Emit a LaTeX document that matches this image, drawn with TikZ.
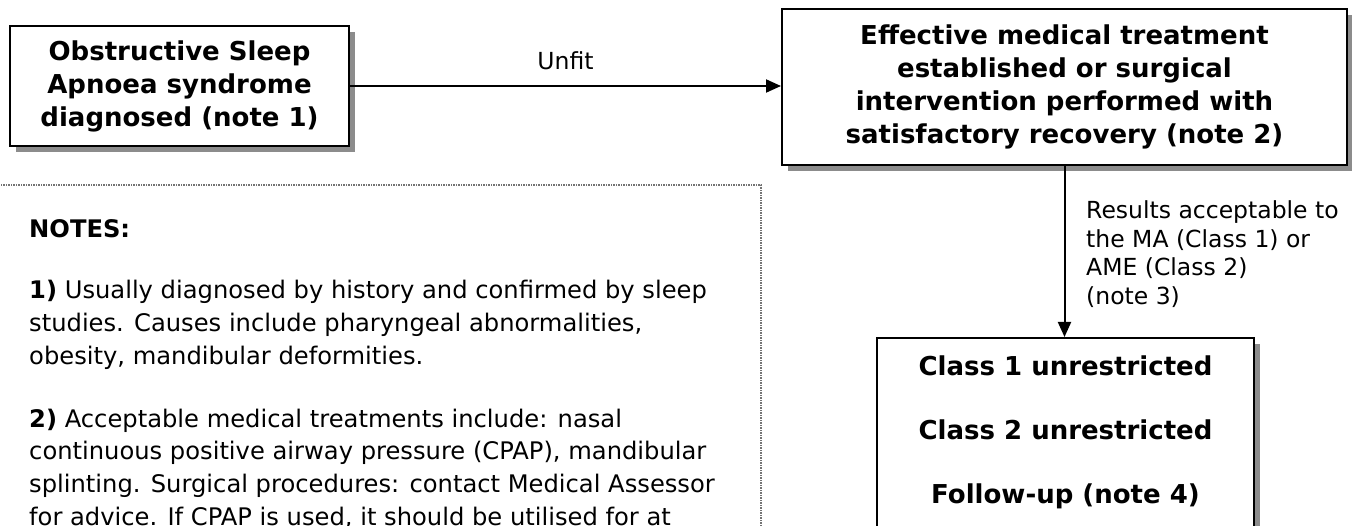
\documentclass[tikz,border=0pt]{standalone}
\usepackage{fontspec}
\setmainfont{DejaVu Sans}
\usetikzlibrary{arrows.meta,shadows}
\begin{document}
\begin{tikzpicture}[x=1pt,y=-1pt,
  flowbox/.style={draw=black, line width=2pt, fill=white, inner sep=0pt, align=center,
    font={\fontsize{26}{33}\selectfont\bfseries},
    drop shadow={shadow xshift=6pt, shadow yshift=-6pt, fill=black!45, opacity=1}},
  boxtext/.style={inner sep=0pt, align=center, font={\fontsize{26}{64}\selectfont\bfseries}},
  conn/.style={line width=2pt, -{Triangle[length=15pt,width=13pt]}},
  lbl/.style={inner sep=0pt, align=left, font={\fontsize{23.5}{28.5}\selectfont}},
  % multi-line nodes: the base anchor sits on the last line's baseline
  notetext/.style={inner sep=0pt, align=left, anchor=base west, font={\fontsize{24.2}{32.7}\selectfont}},
  notesline/.style={draw=black!55, line width=1.3pt, dash pattern=on 1.3pt off 1.2pt}
]
\useasboundingbox (0,0) rectangle (1352,526);
\clip (0,0) rectangle (1352,526);

% notes frame (continues past the lower and left edges)
\draw[notesline] (-20,185) rectangle (761,600);

% flow boxes
\node[flowbox, minimum width=339pt, minimum height=120pt] (osa) at (179.5,86)
  {Obstructive Sleep\\Apnoea syndrome\\diagnosed (note 1)};
\node[flowbox, minimum width=565pt, minimum height=156pt] (treat) at (1064.5,87)
  {Effective medical treatment\\established or surgical\\intervention performed with\\satisfactory recovery (note 2)};
\node[flowbox, minimum width=377pt, minimum height=208pt] (res) at (1065.5,442) {};
\node[boxtext] (restext) at (1065.5,432)
  {Class 1 unrestricted\\Class 2 unrestricted\\Follow-up (note 4)};

% connectors
\draw[conn] (osa.east) -- node[lbl, above=15pt] (unfit) {Unfit} (osa.east -| treat.west);
\draw[conn] (treat.south) -- (treat.south |- res.north);
\node[lbl, anchor=base west] (accept) at (1086,304.5)
  {Results acceptable to\\the MA (Class 1) or\\AME (Class 2)\\(note 3)};

% notes
\node[notetext] (ntitle) at (29,238) {\bfseries NOTES:};
\node[notetext] (note1) at (29,364.4)
  {\textbf{1)} Usually diagnosed by history and confirmed by sleep\\
   studies. Causes include pharyngeal abnormalities,\\
   obesity, mandibular deformities.};
\node[notetext] (note2) at (29,525.1)
  {\textbf{2)} Acceptable medical treatments include: nasal\\
   continuous positive airway pressure (CPAP), mandibular\\
   splinting. Surgical procedures: contact Medical Assessor\\
   for advice. If CPAP is used, it should be utilised for at};
\end{tikzpicture}
\end{document}
